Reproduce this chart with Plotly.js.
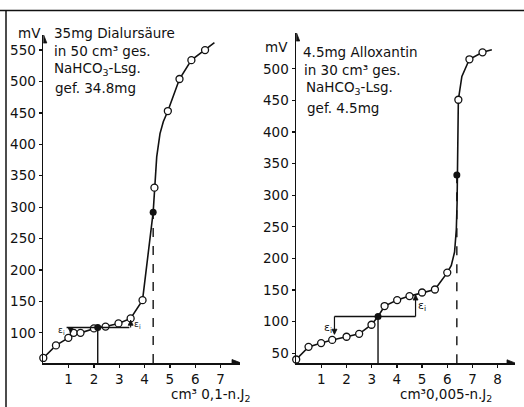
<!DOCTYPE html>
<html><head><meta charset="utf-8">
<script src="https://cdn.plot.ly/plotly-3.0.1.min.js"></script>
<style>html,body{margin:0;padding:0;background:#fff}#c{width:524px;height:407px}</style>
</head><body><div id="c"></div>
<script>
// Left panel: 35mg Dialursäure
const leftX = [0, 0.5, 0.99, 1.2, 1.47, 2.0, 2.46, 2.97, 3.45, 3.92, 4.39, 4.92, 5.38, 5.85, 6.39];
const leftY = [60, 80, 92, 100, 100, 107, 110, 115, 123, 152, 331, 453, 504, 534, 550];
const leftEqX = [2.15, 4.34];
const leftEqY = [108.6, 292];
const leftCurveX = [0, 0.5, 0.99, 1.2, 1.47, 2.0, 2.15, 2.46, 2.97, 3.45, 3.92, 4.34, 4.39, 4.48, 4.61, 4.74, 4.92, 5.38, 5.85, 6.39, 6.76];
const leftCurveY = [60, 80, 92, 100, 100, 107, 108.6, 110, 115, 123, 152, 292, 331, 380, 417, 436, 453, 504, 534, 550, 562];
const leftXTicks = [1, 2, 3, 4, 5, 6, 7];
const leftYTicks = [100, 150, 200, 250, 300, 350, 400, 450, 500, 550];
// epsilon marks (left): x positions, tip values
const leftEpsX = [1.08, 3.45];
const leftEpsTip = [100, 120];

// Right panel: 4.5mg Alloxantin
const rightX = [0, 0.49, 0.99, 1.43, 2.0, 2.5, 2.99, 3.51, 4.01, 4.5, 5.0, 5.51, 6.0, 6.44, 6.88, 7.40];
const rightY = [40, 60, 66, 71, 76, 80.6, 95, 124.6, 134, 140.3, 146, 150.8, 177.5, 451, 515, 526];
const rightEqX = [3.25, 6.38];
const rightEqY = [108, 332];
const rightCurveX = [0, 0.49, 0.99, 1.43, 2.0, 2.5, 2.99, 3.25, 3.51, 4.01, 4.5, 5.0, 5.51, 6.0, 6.16, 6.29, 6.36, 6.39, 6.40, 6.44, 6.58, 6.88, 7.40, 7.77];
const rightCurveY = [40, 60, 66, 71, 76, 80.6, 95, 108, 124.6, 134, 140.3, 146, 150.8, 177.5, 189, 210, 246, 288, 332, 451, 488, 515, 526, 530];
const rightXTicks = [1, 2, 3, 4, 5, 6, 7, 8];
const rightYTicks = [50, 100, 150, 200, 250, 300, 350, 400, 450, 500];
const rightEpsX = [1.52, 4.74];
const rightEpsTip = [80, 142];

const FONT = 'DejaVu Sans, sans-serif';
const K = '#111';
const W = 524, H = 407;
const px = v => v / W, py = v => 1 - v / H;

const LR = [0, 7.77], LYR = [52, 574];
const RR = [0, 8.69], RYR = [34, 556.6];

const traces = [
  {x: leftCurveX, y: leftCurveY, xaxis: 'x', yaxis: 'y', mode: 'lines', line: {color: K, width: 1.6}, hoverinfo: 'skip'},
  {x: leftX, y: leftY, xaxis: 'x', yaxis: 'y', mode: 'markers', cliponaxis: false, marker: {symbol: 'circle', size: 7, color: '#fff', line: {color: K, width: 1.3}}},
  {x: leftEqX, y: leftEqY, xaxis: 'x', yaxis: 'y', mode: 'markers', marker: {symbol: 'circle', size: 7, color: K}},
  {x: rightCurveX, y: rightCurveY, xaxis: 'x2', yaxis: 'y2', mode: 'lines', line: {color: K, width: 1.6}, hoverinfo: 'skip'},
  {x: rightX, y: rightY, xaxis: 'x2', yaxis: 'y2', mode: 'markers', cliponaxis: false, marker: {symbol: 'circle', size: 7, color: '#fff', line: {color: K, width: 1.3}}},
  {x: rightEqX, y: rightEqY, xaxis: 'x2', yaxis: 'y2', mode: 'markers', marker: {symbol: 'circle', size: 7, color: K}}
];

const axBase = {showgrid: false, zeroline: false, showline: true, linecolor: K, linewidth: 1.7,
  ticks: 'outside', ticklen: 3, tickwidth: 1.3, tickcolor: K, tickfont: {family: FONT, size: 13.5, color: K}, fixedrange: true};
const axIn = {showgrid: false, zeroline: false, showline: false, ticks: 'inside', ticklen: 3, tickwidth: 1.3, tickcolor: K, showticklabels: false, fixedrange: true};

const xdomL = [px(43.3), px(240)], xdomR = [px(296.2), px(515)];
const ydomL = [py(363), py(35)], ydomR = [py(363.3), py(33)];

function head(xr, yr, x, y, path) {
  return {type: 'path', xref: xr, yref: yr, xsizemode: 'pixel', ysizemode: 'pixel', xanchor: x, yanchor: y,
    path: path, fillcolor: K, line: {color: K, width: 0.8}, layer: 'above'};
}
const RIGHT = 'M -8 3.5 L 1 0 L -8 -3.5 Z';
const UP = 'M -3.5 -8 L 0 1 L 3.5 -8 Z';
const DOWN_S = 'M -2.5 5 L 0 0 L 2.5 5 Z';
const UP_S = 'M -2.5 -5 L 0 0 L 2.5 -5 Z';

const shapes = [
  // frame
  {type: 'line', xref: 'paper', yref: 'paper', x0: 0, x1: 1, y0: py(10.5), y1: py(10.5), line: {color: K, width: 1.5}},
  {type: 'line', xref: 'paper', yref: 'paper', x0: px(6), x1: px(6), y0: py(10.5), y1: 0, line: {color: K, width: 1.5}},
  // left: equivalence lines
  {type: 'line', xref: 'x', yref: 'y', x0: leftEqX[0], x1: leftEqX[0], y0: LYR[0], y1: leftEqY[0], line: {color: K, width: 1.4}},
  {type: 'line', xref: 'x', yref: 'y', x0: leftEqX[1], x1: leftEqX[1], y0: LYR[0], y1: leftEqY[1], line: {color: K, width: 1.4, dash: 'dash'}},
  {type: 'line', xref: 'x', yref: 'y', x0: 0.92, x1: 3.4, y0: leftEqY[0], y1: leftEqY[0], line: {color: K, width: 1.4}},
  // right: equivalence lines
  {type: 'line', xref: 'x2', yref: 'y2', x0: rightEqX[0], x1: rightEqX[0], y0: RYR[0], y1: rightEqY[0], line: {color: K, width: 1.4}},
  {type: 'line', xref: 'x2', yref: 'y2', x0: rightEqX[1], x1: rightEqX[1], y0: RYR[0], y1: rightEqY[1], line: {color: K, width: 1.4, dash: 'dash'}},
  {type: 'line', xref: 'x2', yref: 'y2', x0: rightEpsX[0], x1: rightEpsX[1], y0: rightEqY[0], y1: rightEqY[0], line: {color: K, width: 1.4}},
  // axis arrowheads
  head('x', 'y', LR[1], LYR[0], RIGHT),
  head('x', 'y', 0, LYR[1], UP),
  head('x2', 'y2', RR[1], RYR[0], RIGHT),
  head('x2', 'y2', 0, RYR[1], UP),
  // epsilon arrowheads
  head('x', 'y', leftEpsX[0], leftEpsTip[0], DOWN_S),
  head('x', 'y', leftEpsX[1], leftEpsTip[1], UP_S),
  head('x2', 'y2', rightEpsX[0], rightEpsTip[0], DOWN_S),
  head('x2', 'y2', rightEpsX[1], rightEpsTip[1], UP_S)
];
// epsilon stems
leftEpsX.forEach((x, i) => shapes.push({type: 'line', xref: 'x', yref: 'y', x0: x, x1: x, y0: leftEqY[0], y1: leftEpsTip[i], line: {color: K, width: 1.1}}));
rightEpsX.forEach((x, i) => shapes.push({type: 'line', xref: 'x2', yref: 'y2', x0: x, x1: x, y0: rightEqY[0], y1: rightEpsTip[i], line: {color: K, width: 1.2}}));

const layout = {
  width: W, height: H, margin: {l: 0, r: 0, t: 0, b: 0}, showlegend: false,
  paper_bgcolor: '#fff', plot_bgcolor: 'rgba(0,0,0,0)',
  xaxis: Object.assign({}, axBase, {domain: xdomL, range: LR, anchor: 'y', tickmode: 'array', tickvals: leftXTicks, ticktext: leftXTicks.map(String)}),
  yaxis: Object.assign({}, axBase, {domain: ydomL, range: LYR, anchor: 'x', tickmode: 'array', tickvals: leftYTicks, ticktext: leftYTicks.map(String)}),
  xaxis2: Object.assign({}, axBase, {domain: xdomR, range: RR, anchor: 'y2', tickmode: 'array', tickvals: rightXTicks, ticktext: rightXTicks.map(String)}),
  yaxis2: Object.assign({}, axBase, {domain: ydomR, range: RYR, anchor: 'x2', tickmode: 'array', tickvals: rightYTicks, ticktext: rightYTicks.map(String)}),
  xaxis3: Object.assign({}, axIn, {domain: xdomL, range: LR, anchor: 'y', overlaying: 'x', tickmode: 'array', tickvals: leftXTicks}),
  yaxis3: Object.assign({}, axIn, {domain: ydomL, range: LYR, anchor: 'x', overlaying: 'y', tickmode: 'array', tickvals: leftYTicks}),
  xaxis4: Object.assign({}, axIn, {domain: xdomR, range: RR, anchor: 'y2', overlaying: 'x2', tickmode: 'array', tickvals: rightXTicks}),
  yaxis4: Object.assign({}, axIn, {domain: ydomR, range: RYR, anchor: 'x2', overlaying: 'y2', tickmode: 'array', tickvals: rightYTicks}),
  shapes: shapes,
  annotations: []
};

const A = layout.annotations;
function txt(x, y, t, opts) {
  A.push(Object.assign({xref: 'paper', yref: 'paper', x: px(x), y: py(y), text: t, showarrow: false,
    xanchor: 'left', yanchor: 'middle', font: {family: FONT, size: 13.5, color: K}}, opts || {}));
}
A.push({xref: 'x', yref: 'y', x: 0.7, y: 103, text: 'ε<sub>i</sub>', showarrow: false, font: {family: FONT, size: 9, color: K}});
A.push({xref: 'x', yref: 'y', x: 3.72, y: 113, text: 'ε<sub>i</sub>', showarrow: false, font: {family: FONT, size: 9, color: K}});
A.push({xref: 'x2', yref: 'y2', x: 1.28, y: 90, text: 'ε<sub>i</sub>', showarrow: false, font: {family: FONT, size: 11, color: K}});
A.push({xref: 'x2', yref: 'y2', x: 4.98, y: 124, text: 'ε<sub>i</sub>', showarrow: false, font: {family: FONT, size: 11, color: K}});

// text blocks
txt(16, 33, 'mV');
txt(52, 33, '35mg Dialursäure');
txt(52, 51, 'in 50 cm³ ges.');
txt(52, 69, 'NaHCO<sub>3</sub>-Lsg.');
txt(53, 88, 'gef. 34.8mg');
txt(169, 395, 'cm³ 0,1-n.J<sub>2</sub>');

txt(263, 47, 'mV');
txt(301, 52, '4.5mg Alloxantin');
txt(302, 70, 'in 30 cm³ ges.');
txt(304, 88, 'NaHCO<sub>3</sub>-Lsg.');
txt(305, 108, 'gef. 4.5mg');
txt(398, 395, 'cm³0,005-n.J<sub>2</sub>');

Plotly.newPlot('c', traces, layout, {staticPlot: true, displayModeBar: false});
</script>
</body></html>
